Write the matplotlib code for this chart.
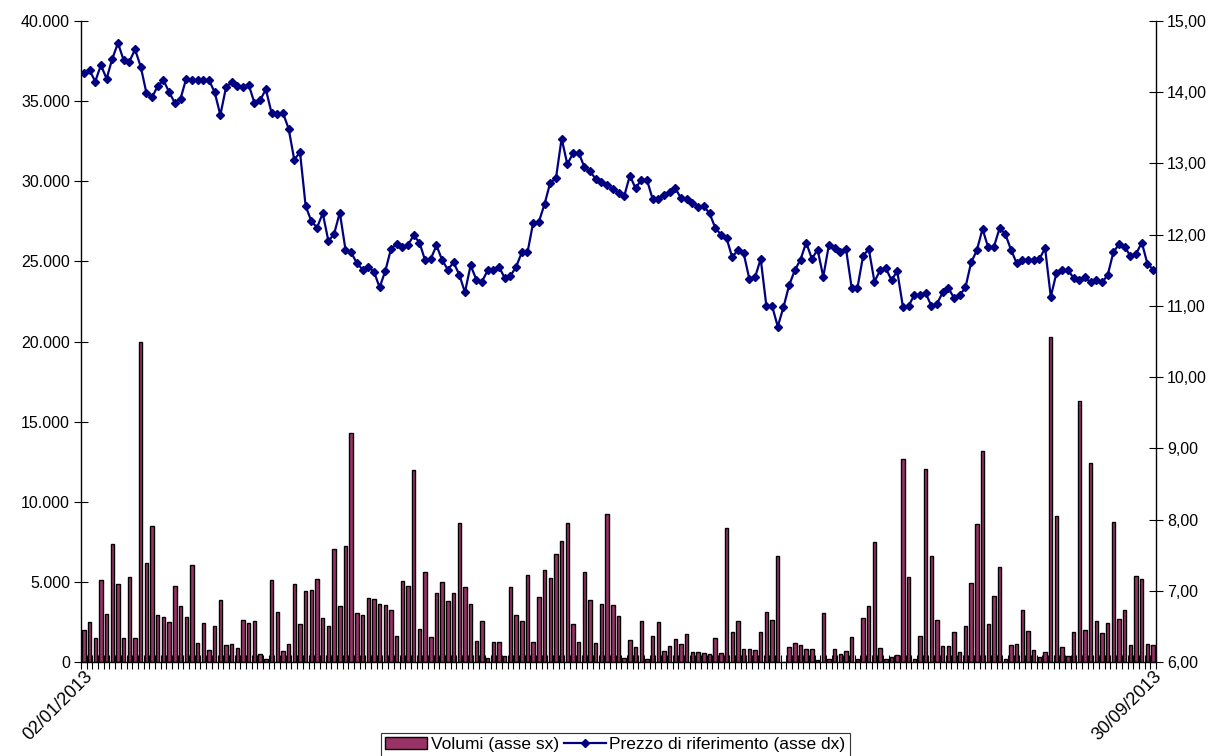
import matplotlib
matplotlib.use("Agg")
import matplotlib.pyplot as plt
from matplotlib.patches import Patch
from matplotlib.lines import Line2D
from matplotlib.ticker import FuncFormatter, FixedLocator

plt.rcParams['font.family'] = ['Liberation Sans', 'DejaVu Sans']

date_labels = ["02/01/2013", "30/09/2013"]

volumes = [
    2020, 2520, 1520, 5140, 3000, 7360, 4890, 1500, 5330, 1520, 19970, 6180, 8510, 2930, 2830, 2500,
    4750, 3500, 2800, 6080, 1210, 2460, 770, 2270, 3900, 1090, 1150, 870, 2650, 2430, 2580, 520,
    210, 5120, 3120, 690, 1120, 4880, 2370, 4430, 4520, 5200, 2760, 2260, 7070, 3520, 7250, 14320,
    3060, 2960, 4020, 3960, 3640, 3560, 3240, 1650, 5070, 4760, 11980, 2080, 5610, 1560, 4330, 4990,
    3790, 4330, 8650, 4680, 3600, 1290, 2580, 270, 1270, 1270, 350, 4700, 2930, 2580, 5430, 1250,
    4040, 5760, 5220, 6720, 7530, 8670, 2390, 1250, 5630, 3890, 1200, 3640, 9250, 3540, 2870,
    270, 1390, 940, 2540, 210, 1620, 2520, 700, 980, 1420, 1100, 1730, 600, 620, 560, 480,
    1500, 560, 8340, 1850, 2540, 830, 830, 730, 1870, 3140, 2640, 6610, 0, 920, 1160, 1060,
    830, 810, 140, 3040, 190, 830, 500, 700, 1540, 170, 2730, 3470, 7470, 890, 170, 290,
    430, 12650, 5300, 170, 1600, 12060, 6610, 2620, 1020, 1020, 1850, 600, 2270, 4930, 8590, 13170,
    2350, 4140, 5910, 210, 1060, 1140, 3240, 1950, 730, 290, 640, 20300, 9110, 940, 400,
    1850, 16270, 2020, 12440, 2580, 1790, 2430, 8760, 2680, 3260, 1080, 5350, 5200, 1150, 1060,
]

prices = [
    14.27, 14.31, 14.15, 14.38, 14.19, 14.47, 14.69, 14.45, 14.43, 14.60, 14.36, 13.99, 13.93, 14.09, 14.17, 14.00,
    13.85, 13.91, 14.19, 14.17, 14.17, 14.17, 14.17, 14.00, 13.68, 14.07, 14.14, 14.09, 14.08, 14.10, 13.85, 13.89,
    14.04, 13.71, 13.70, 13.71, 13.49, 13.05, 13.16, 12.40, 12.19, 12.10, 12.30, 11.91, 12.01, 12.31, 11.79, 11.75,
    11.60, 11.51, 11.55, 11.48, 11.26, 11.49, 11.80, 11.87, 11.82, 11.86, 11.99, 11.89, 11.64, 11.66, 11.85, 11.64,
    11.51, 11.61, 11.44, 11.19, 11.57, 11.37, 11.34, 11.50, 11.51, 11.55, 11.39, 11.42, 11.55, 11.75, 11.75, 12.17,
    12.18, 12.43, 12.73, 12.79, 13.35, 12.99, 13.14, 13.15, 12.95, 12.89, 12.78, 12.74, 12.70, 12.64, 12.59,
    12.54, 12.83, 12.65, 12.77, 12.77, 12.50, 12.50, 12.56, 12.60, 12.65, 12.51, 12.50, 12.45, 12.39, 12.40, 12.30,
    12.10, 12.00, 11.95, 11.68, 11.79, 11.74, 11.38, 11.40, 11.66, 11.00, 11.00, 10.71, 10.98, 11.29, 11.50, 11.65,
    11.89, 11.66, 11.79, 11.41, 11.86, 11.81, 11.75, 11.80, 11.25, 11.25, 11.70, 11.80, 11.34, 11.50, 11.53, 11.36,
    11.49, 10.99, 11.00, 11.15, 11.15, 11.18, 11.00, 11.03, 11.19, 11.25, 11.11, 11.15, 11.26, 11.61, 11.78, 12.08,
    11.82, 11.83, 12.09, 12.01, 11.79, 11.60, 11.64, 11.65, 11.64, 11.66, 11.81, 11.13, 11.46, 11.50, 11.51,
    11.39, 11.36, 11.40, 11.33, 11.37, 11.33, 11.43, 11.75, 11.87, 11.83, 11.70, 11.73, 11.89, 11.59, 11.51,
]

legend_labels = ["Volumi (asse sx)", "Prezzo di riferimento (asse dx)"]

bar_color = "#993366"
line_color = "#000080"

n = len(volumes)
x = list(range(n))

fig = plt.figure(figsize=(12.16, 7.56), dpi=100)
ax = fig.add_axes([81 / 1216, 1 - 662 / 756, (1156 - 81) / 1216, (662 - 21) / 756])

ax.bar(x, volumes, width=0.6, color=bar_color, edgecolor="black", linewidth=1.0, zorder=2)
ax.set_xlim(-0.5, n - 0.5)
ax.set_ylim(0, 40000)
ax.set_yticks(range(0, 40001, 5000))
ax.yaxis.set_major_formatter(FuncFormatter(lambda v, p: f"{int(v):,}".replace(",", ".")))

ax.spines['top'].set_visible(False)
ax.spines['right'].set_visible(False)
for s in ('left', 'bottom'):
    ax.spines[s].set_linewidth(1.0)
    ax.spines[s].set_color('black')

# category boundary ticks
ax.xaxis.set_major_locator(FixedLocator([i - 0.5 for i in range(n + 1)]))
ax.tick_params(axis='x', which='major', direction='inout', length=10, width=0.8, labelbottom=False)
ax.set_xticks([0, n - 1], minor=True)
ax.set_xticklabels(date_labels, minor=True, rotation=45, ha='right', va='top',
                   rotation_mode='anchor', fontsize=13)
ax.tick_params(axis='x', which='minor', length=0, pad=4)
ax.tick_params(axis='y', direction='inout', length=10, width=0.8, labelsize=11.5, pad=3)

ax2 = ax.twinx()
ax2.plot(x, prices, color=line_color, linewidth=1.6, marker='D', markersize=4.4,
         markerfacecolor=line_color, markeredgecolor=line_color, zorder=3)
ax2.set_ylim(6, 15)
ax2.set_yticks([6 + i for i in range(10)])
ax2.yaxis.set_major_formatter(FuncFormatter(lambda v, p: f"{v:.2f}".replace(".", ",")))
ax2.tick_params(axis='y', direction='inout', length=10, width=0.8, labelsize=11.5, pad=3)
ax2.spines['top'].set_visible(False)
ax2.spines['left'].set_visible(False)
ax2.spines['bottom'].set_visible(False)
ax2.spines['right'].set_linewidth(1.0)
ax2.set_xlim(-0.5, n - 0.5)

handles = [
    Patch(facecolor=bar_color, edgecolor="black", linewidth=1.0),
    Line2D([0], [0], color=line_color, linewidth=1.6, marker='D', markersize=4.4),
]
leg = fig.legend(handles, legend_labels, loc='upper center', bbox_to_anchor=(0.506, 1 - 733 / 756),
                 ncol=2, frameon=True, fancybox=False, fontsize=12.5, handlelength=2.4,
                 handletextpad=0.2, columnspacing=0.3, borderpad=0.25, borderaxespad=0)
leg.get_frame().set_edgecolor('black')
leg.get_frame().set_linewidth(0.8)

fig.savefig("out.png", dpi=100)
